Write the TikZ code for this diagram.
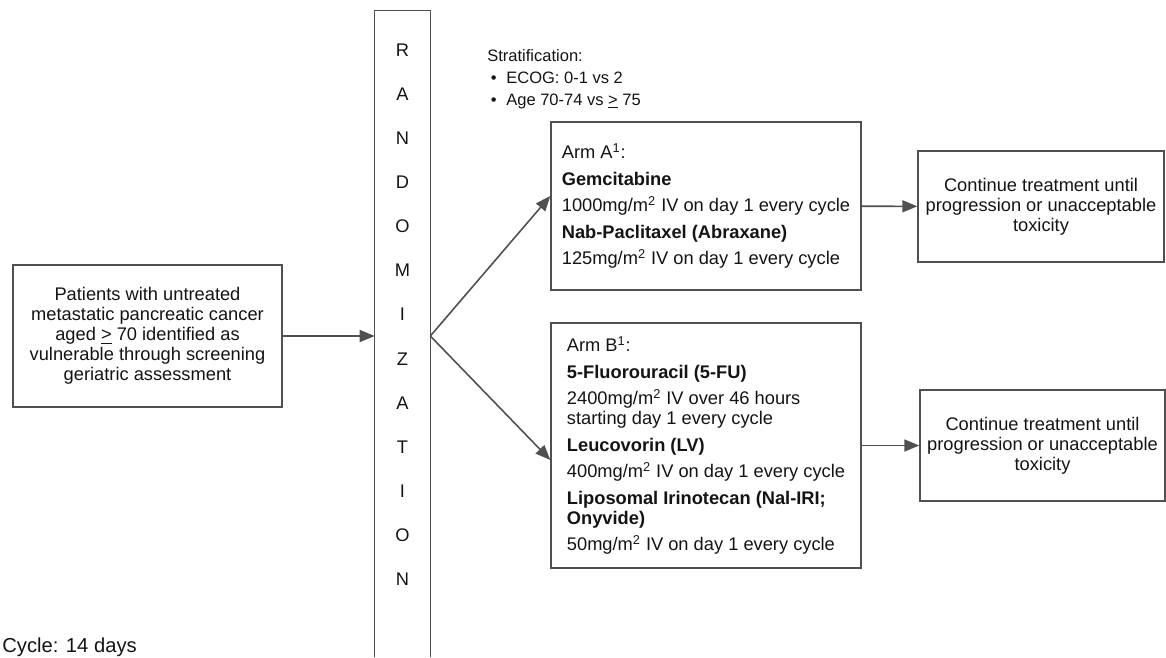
\documentclass[tikz,border=0pt]{standalone}
\usepackage{fontspec}
\setmainfont{Liberation Sans}
\usetikzlibrary{positioning,arrows.meta}
\definecolor{boxline}{RGB}{80,80,80}
\definecolor{ink}{RGB}{20,20,20}

\begin{document}
\begin{tikzpicture}[x=0.02cm, y=-0.02cm,
  every node/.style={text=ink, font=\fontsize{10.4}{11.4}\selectfont},
  box/.style={draw=boxline, line width=0.8pt, inner sep=0pt},
  flow/.style={draw=boxline, line width=0.9pt, -{Triangle[length=0.3cm,width=0.24cm]}}]
  \useasboundingbox (0,0) rectangle (1166,657);
  % patients
  \node[box, minimum width=5.38cm, minimum height=2.84cm, align=center] (pat) at (147.5,336)
    {Patients with untreated\\metastatic pancreatic cancer\\aged \underline{>} 70 identified as\\vulnerable through screening\\geriatric assessment};
  % randomization column
  \node[minimum width=1.1cm, minimum height=12.92cm, inner sep=0pt] (rand) at (402.5,334) {};
  \draw[boxline, line width=0.8pt] (rand.south west) |- (rand.north east) -- (rand.south east);
  \foreach \ch [count=\i] in {R,A,N,D,O,M,I,Z,A,T,I,O,N}
    \node (rand-\i) at (402.5,6+44.1*\i) {\ch};
  \node[anchor=north west, align=left, inner sep=0pt, font=\fontsize{9.4}{12.5}\selectfont] (strat) at (487,49)
    {Stratification:\\ \hspace*{2pt}\textbullet\hspace{5.5pt}ECOG: 0-1 vs 2\\ \hspace*{2pt}\textbullet\hspace{5.5pt}Age 70-74 vs \underline{>} 75};
  % arms
  \node[box, minimum width=6.2cm, minimum height=3.36cm, align=left] (armA) at (706,206)
    {Arm A\textsuperscript{1}:\\[3.7pt]
     \textbf{Gemcitabine}\\[3.7pt]
     1000mg/m\textsuperscript{2} IV on day 1 every cycle\\[3.7pt]
     \textbf{Nab-Paclitaxel (Abraxane)}\\[3.7pt]
     125mg/m\textsuperscript{2} IV on day 1 every cycle};
  \node[box, minimum width=6.2cm, minimum height=4.9cm, align=left] (armB) at (706,445.5)
    {Arm B\textsuperscript{1}:\\[3.7pt]
     \textbf{5-Fluorouracil (5-FU)}\\[3.7pt]
     2400mg/m\textsuperscript{2} IV over 46 hours\\
     starting day 1 every cycle\\[3.7pt]
     \textbf{Leucovorin (LV)}\\[3.7pt]
     400mg/m\textsuperscript{2} IV on day 1 every cycle\\[3.7pt]
     \textbf{Liposomal Irinotecan (Nal-IRI;}\\
     \textbf{Onyvide)}\\[3.7pt]
     50mg/m\textsuperscript{2} IV on day 1 every cycle};
  % continue
  \node[box, minimum width=4.92cm, minimum height=2.22cm, align=center] (contA) at (1041,206.5)
    {Continue treatment until\\progression or unacceptable\\toxicity};
  \node[box, minimum width=4.9cm, minimum height=2.22cm, align=center] (contB) at (1042.5,445.5)
    {Continue treatment until\\progression or unacceptable\\toxicity};
  \node[anchor=base west, inner sep=0pt, font=\fontsize{11.5}{13}\selectfont] (cycle) at (2,652) {Cycle: 14 days};
  \path
  (pat) edge[flow] (pat -| rand.west)
  (pat -| rand.east) edge[flow] ([yshift=0.2cm]armA.west)
  (pat -| rand.east) edge[flow] ([yshift=-0.29cm]armB.west)
  (armA) edge[flow] (contA)
  (armB) edge[flow] (contB)
;
\end{tikzpicture}
\end{document}
